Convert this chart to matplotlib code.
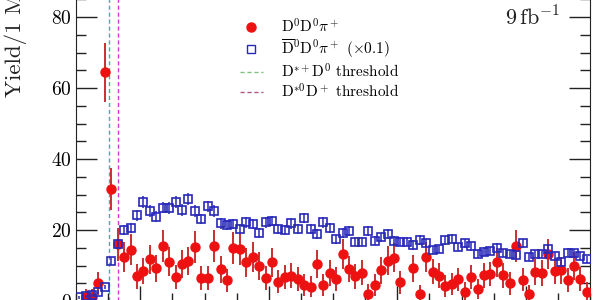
import numpy as np
import matplotlib
matplotlib.use("Agg")
import matplotlib.pyplot as plt
from matplotlib.lines import Line2D
from matplotlib.ticker import MultipleLocator

plt.rcParams['font.family'] = ['cmr10', 'DejaVu Serif']
plt.rcParams['mathtext.fontset'] = 'cm'
plt.rcParams['axes.formatter.use_mathtext'] = True

# bin lower edges (MeV), 1 MeV bins
bin_low = np.arange(3870, 3950, 1)

# D0 D0 pi+ yields
ddpi = [np.nan, 1.0, 1.0, 5.0, 64.4, 31.5, 16.0, 12.5, 14.5, 7.0,
        8.5, 11.7, 9.2, 15.5, 11.1, 6.8, 10.4, 11.3, 15.3, 6.6,
        6.6, 15.6, 8.9, 5.8, 15.0, 14.6, 10.9, 12.5, 9.9, 6.4,
        10.9, 5.4, 6.8, 7.1, 6.2, 4.5, 4.0, 10.4, 4.6, 7.9,
        6.2, 13.3, 9.0, 7.0, 8.0, 2.1, 4.5, 8.6, 11.4, 12.2,
        5.3, np.nan, 9.2, 2.0, 12.3, 8.3, 7.1, 4.2, 4.8, 6.1,
        2.6, 6.8, 3.4, 7.3, 7.6, 10.9, 7.2, 5.0, 15.5, 6.0,
        2.0, 8.1, 7.9, 13.2, 8.5, 8.6, 5.9, 9.9, 6.2, 2.6]
ddpi_err = [0.0, 2.4, 2.4, 3.2, 8.3, 6.0, 4.6, 4.2, 4.4, 3.5,
            3.7, 4.1, 3.8, 4.5, 4.0, 3.4, 3.9, 4.0, 4.5, 3.4,
            3.4, 4.5, 3.7, 3.3, 4.5, 4.4, 4.0, 4.2, 3.9, 3.4,
            4.0, 3.2, 3.4, 3.5, 3.3, 3.1, 3.0, 3.9, 3.1, 3.6,
            3.3, 4.3, 3.7, 3.5, 3.6, 2.7, 3.1, 3.7, 4.0, 4.1,
            3.2, 0.0, 3.8, 2.6, 4.2, 3.6, 3.5, 3.0, 3.1, 3.3,
            2.8, 3.4, 2.9, 3.5, 3.5, 4.0, 3.5, 3.2, 4.5, 3.3,
            2.6, 3.6, 3.6, 4.3, 3.7, 3.7, 3.3, 3.9, 3.3, 2.8]

# Dbar0 D0 pi+ yields (already scaled x0.1)
dbdpi = [1.0, 1.3, 1.6, 2.6, 4.0, 11.3, 16.0, 20.0, 20.5, 24.1,
         27.9, 25.4, 23.8, 26.3, 26.2, 28.0, 25.6, 28.7, 25.4, 23.1,
         26.7, 25.4, 21.9, 21.4, 21.7, 20.3, 22.2, 21.7, 19.2, 22.2,
         22.5, 20.2, 20.0, 21.9, 20.3, 23.4, 20.3, 18.9, 22.2, 20.5,
         17.4, 19.2, 19.6, 16.7, 16.7, 19.8, 17.0, 17.9, 18.9, 17.0,
         16.7, 16.7, 15.8, 17.2, 16.2, 14.4, 14.7, 17.1, 17.5, 15.2,
         16.2, 15.4, 13.2, 13.9, 14.1, 15.0, 13.5, 13.2, 13.0, 16.3,
         12.4, 13.3, 13.2, 14.6, 12.7, 11.0, 13.6, 13.5, 12.7, 11.7]
dbdpi_err = [0.3, 0.4, 0.4, 0.5, 0.6, 1.1, 1.3, 1.4, 1.4, 1.6,
             1.7, 1.6, 1.5, 1.6, 1.6, 1.7, 1.6, 1.7, 1.6, 1.5,
             1.6, 1.6, 1.5, 1.5, 1.5, 1.4, 1.5, 1.5, 1.4, 1.5,
             1.5, 1.4, 1.4, 1.5, 1.4, 1.5, 1.4, 1.4, 1.5, 1.4,
             1.3, 1.4, 1.4, 1.3, 1.3, 1.4, 1.3, 1.3, 1.4, 1.3,
             1.3, 1.3, 1.3, 1.3, 1.3, 1.2, 1.2, 1.3, 1.3, 1.2,
             1.3, 1.2, 1.1, 1.2, 1.2, 1.2, 1.2, 1.1, 1.1, 1.3,
             1.1, 1.2, 1.1, 1.2, 1.1, 1.0, 1.2, 1.2, 1.1, 1.1]

thr_dstp_d0 = 3875.10
thr_dst0_dp = 3876.51

labels = [r'$\mathrm{D}^0\mathrm{D}^0\pi^+$',
          r'$\overline{\mathrm{D}}{}^0\mathrm{D}^0\pi^+$ ($\times$0.1)',
          r'$\mathrm{D}^{*+}\mathrm{D}^0$ threshold',
          r'$\mathrm{D}^{*0}\mathrm{D}^+$ threshold']

x = bin_low + 0.5

fig = plt.figure(figsize=(6, 3), dpi=100)
ax = fig.add_axes([76/600, -1/300, 514/600, 90*3.55/300])

c_thr1 = '#3ab5a5'
c_thr2 = '#d23ad2'
ax.axvline(thr_dstp_d0, color=c_thr1, ls=(0, (3, 2)), lw=1.0, zorder=1)
ax.axvline(thr_dst0_dp, color=c_thr2, ls=(0, (3, 2)), lw=1.0, zorder=1)

ax.errorbar(x, ddpi, yerr=ddpi_err, fmt='o', color='#ee1111', ecolor='#c83030',
            elinewidth=1.4, ms=6.5, capsize=0, zorder=3)
ax.errorbar(x, dbdpi, yerr=dbdpi_err, fmt='s', mfc='none', mec='#2828b8',
            ecolor='#2828b8', elinewidth=1.1, ms=6.3, mew=1.2, capsize=0, zorder=4)

ax.set_xlim(3870, 3950)
ax.set_ylim(0, 90)
ax.xaxis.set_major_locator(MultipleLocator(20))
ax.xaxis.set_minor_locator(MultipleLocator(5))
ax.yaxis.set_major_locator(MultipleLocator(20))
ax.yaxis.set_minor_locator(MultipleLocator(5))
ax.tick_params(which='both', direction='in', top=False, right=True, color='#222222')
ax.tick_params(which='major', length=15, width=1.0, labelsize=14)
ax.tick_params(which='minor', length=7.5, width=1.0)
ax.tick_params(axis='x', which='major', length=11)
ax.tick_params(axis='x', which='minor', length=6)
ax.tick_params(axis='x', labelbottom=False)
ax.tick_params(axis='y', pad=3)
for s in ax.spines.values():
    s.set_color('#222222')
ax.spines['top'].set_visible(False)

fig.text(16/600, (300-97)/300, 'Yield/1 MeV', rotation=90, ha='center', va='bottom',
         fontsize=16.5, color='#222222')
fig.text(505/600, (300-26)/300, r'$9\,\mathrm{fb}^{-1}$', ha='left', va='baseline',
         fontsize=16, color='#222222')

handles = [Line2D([], [], ls='none', marker='o', color='#ee1111', ms=6.5),
           Line2D([], [], ls='none', marker='s', mfc='none', mec='#2828b8', ms=6.3, mew=1.0),
           Line2D([], [], color='#80c080', ls=(0, (3, 2)), lw=1.0),
           Line2D([], [], color='#b05a80', ls=(0, (3, 2)), lw=1.0)]
ax.legend(handles, labels, loc='upper left', bbox_to_anchor=(232/600, 1 - 10/300),
          bbox_transform=fig.transFigure, frameon=False, fontsize=11,
          handlelength=1.5, handletextpad=1.2, labelspacing=0.12, borderpad=0)

fig.savefig('out.png', dpi=100)
